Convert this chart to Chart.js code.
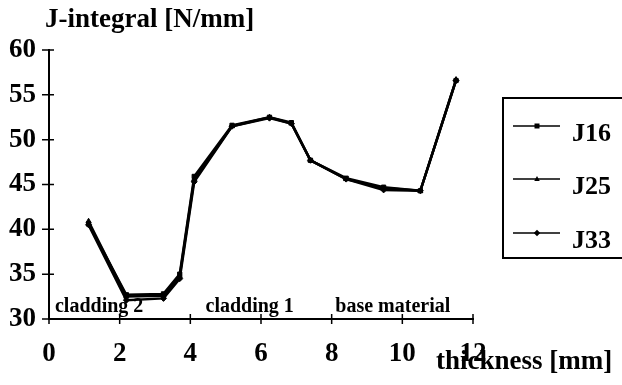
<!DOCTYPE html>
<html>
<head>
<meta charset="utf-8">
<script src="https://cdn.jsdelivr.net/npm/chart.js@4.4.1/dist/chart.umd.min.js"></script>
<style>
  html, body { margin: 0; padding: 0; background: #fff; }
  #wrap { width: 622px; height: 385px; }
</style>
</head>
<body>
<div id="wrap"><canvas id="jChart" width="622" height="385"></canvas></div>
<script>
// thickness positions [mm]
var thickness = [1.12, 2.19, 3.24, 3.7, 4.11, 5.18, 6.24, 6.86, 7.4, 8.41, 9.47, 10.51, 11.52];
// J-integral values [N/mm]
var j16 = [40.6, 32.7, 32.8, 35.0, 45.9, 51.6, 52.5, 51.9, 47.7, 45.7, 44.7, 44.3, 56.6];
var j25 = [40.9, 32.5, 32.6, 34.8, 45.6, 51.5, 52.5, 51.8, 47.7, 45.6, 44.6, 44.3, 56.7];
var j33 = [40.5, 32.1, 32.3, 34.5, 45.3, 51.5, 52.4, 51.8, 47.7, 45.6, 44.4, 44.3, 56.6];
var seriesNames = ['J16', 'J25', 'J33'];
var markers = ['rect', 'triangle', 'rectRot'];
// material zones along the thickness, label centre in mm
var zoneLabels = ['cladding 2', 'cladding 1', 'base material'];
var zoneCentres = [1.42, 5.68, 9.73];

var serif = '"Liberation Serif", "Times New Roman", serif';

function points(ys) {
    return thickness.map(function (x, i) { return {x: x, y: ys[i]}; });
}

function drawMarker(ctx, style, x, y, r) {
    ctx.beginPath();
    if (style === 'rect') {
        ctx.rect(x - r, y - r, 2 * r, 2 * r);
    } else if (style === 'triangle') {
        ctx.moveTo(x, y - r * 1.2);
        ctx.lineTo(x + r * 1.1, y + r * 0.8);
        ctx.lineTo(x - r * 1.1, y + r * 0.8);
        ctx.closePath();
    } else {
        ctx.moveTo(x, y - r * 1.3);
        ctx.lineTo(x + r * 1.3, y);
        ctx.lineTo(x, y + r * 1.3);
        ctx.lineTo(x - r * 1.3, y);
        ctx.closePath();
    }
    ctx.fill();
}

var extras = {
    id: 'extras',
    afterDraw: function (chart) {
        var ctx = chart.ctx;
        var xs = chart.scales.x, ys = chart.scales.y;
        var area = chart.chartArea;
        ctx.save();
        ctx.fillStyle = '#000';
        ctx.strokeStyle = '#000';

        // tick marks crossing the axes
        ctx.lineWidth = 1.5;
        ctx.beginPath();
        ys.ticks.forEach(function (t, i) {
            var py = ys.getPixelForTick(i);
            ctx.moveTo(area.left - 7, py);
            ctx.lineTo(area.left + 5, py);
        });
        xs.ticks.forEach(function (t, i) {
            var px = xs.getPixelForTick(i);
            ctx.moveTo(px, area.bottom - 5);
            ctx.lineTo(px, area.bottom + 5);
        });
        ctx.stroke();

        // titles
        ctx.textAlign = 'left';
        ctx.textBaseline = 'alphabetic';
        ctx.font = 'bold 27px ' + serif;
        ctx.fillText('J-integral [N/mm]', 45, 27);
        ctx.fillText('thickness [mm]', 436, 369);

        // zone labels
        ctx.font = 'bold 20px ' + serif;
        ctx.textAlign = 'center';
        zoneLabels.forEach(function (lab, i) {
            ctx.fillText(lab, xs.getPixelForValue(zoneCentres[i]), area.bottom - 7);
        });

        // legend box
        ctx.lineWidth = 2;
        ctx.strokeRect(503, 98, 130, 160);
        ctx.textAlign = 'left';
        ctx.font = 'bold 26px ' + serif;
        var rowY = [126, 179, 233];
        chart.data.datasets.forEach(function (ds, i) {
            var y = rowY[i];
            ctx.lineWidth = 1.5;
            ctx.beginPath();
            ctx.moveTo(513, y);
            ctx.lineTo(560, y);
            ctx.stroke();
            drawMarker(ctx, ds.pointStyle, 537, y, 2.5);
            ctx.fillText(ds.label, 572, y + 15);
        });
        ctx.restore();
    }
};

var ctx = document.getElementById('jChart').getContext('2d');

new Chart(ctx, {
    type: 'line',
    data: {
        datasets: [j16, j25, j33].map(function (vals, i) {
            return {
                label: seriesNames[i],
                data: points(vals),
                borderColor: '#000',
                backgroundColor: '#000',
                borderWidth: 2.5,
                pointStyle: markers[i],
                pointRadius: 3,
                pointBorderWidth: 1,
                tension: 0,
            };
        }),
    },
    options: {
        responsive: false,
        animation: false,
        layout: {
            padding: {left: 0, top: 50, right: 149, bottom: 0},
        },
        plugins: {
            legend: {display: false},
            tooltip: {enabled: false},
        },
        scales: {
            x: {
                type: 'linear',
                min: 0,
                max: 12,
                ticks: {
                    stepSize: 2,
                    color: '#000',
                    padding: 19,
                    font: {family: serif, size: 27, weight: 'bold'},
                },
                grid: {drawOnChartArea: false, drawTicks: false},
                border: {color: '#000', width: 2},
                afterFit: function (scale) { scale.height = 66; },
            },
            y: {
                min: 30,
                max: 60,
                ticks: {
                    stepSize: 5,
                    color: '#000',
                    padding: 13,
                    font: {family: serif, size: 27, weight: 'bold'},
                },
                grid: {drawOnChartArea: false, drawTicks: false},
                border: {color: '#000', width: 2},
                afterFit: function (scale) { scale.width = 49; },
            },
        },
    },
    plugins: [extras],
});
</script>
</body>
</html>
